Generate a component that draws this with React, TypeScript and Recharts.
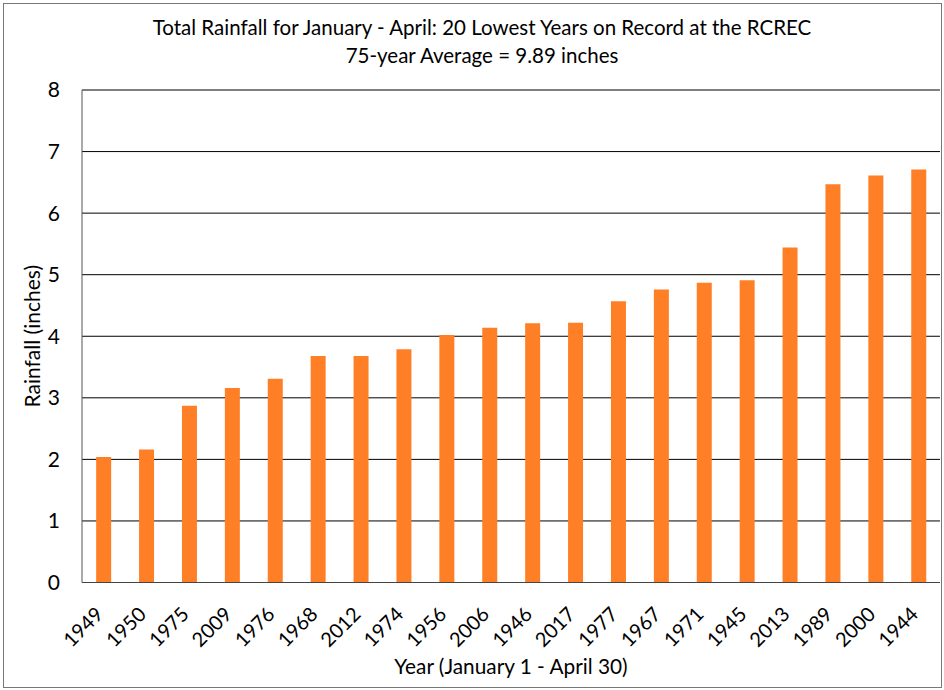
import { BarChart, Bar, XAxis, YAxis, CartesianGrid } from "recharts";

const years = [
  "1949", "1950", "1975", "2009", "1976", "1968", "2012", "1974", "1956", "2006",
  "1946", "2017", "1977", "1967", "1971", "1945", "2013", "1989", "2000", "1944",
];
const rainfall = [
  2.04, 2.16, 2.87, 3.16, 3.31, 3.68, 3.68, 3.79, 4.02, 4.14,
  4.21, 4.22, 4.57, 4.76, 4.87, 4.91, 5.44, 6.47, 6.61, 6.71,
];
const yTicks = [0, 1, 2, 3, 4, 5, 6, 7, 8];

const data = years.map((year, i) => ({ year, rainfall: rainfall[i] }));

const font = "Lato, 'Open Sans', sans-serif";

function YearTick({ x, y, payload }: any) {
  return (
    <text
      transform={`translate(${x + 1},${y + 25}) rotate(-45)`}
      textAnchor="end"
      fontSize={20}
      fontFamily={font}
      fill="#000"
    >
      {payload.value}
    </text>
  );
}

export default function App() {
  return (
    <div
      style={{
        position: "absolute",
        left: 0,
        top: 0,
        width: 944,
        height: 690,
        background: "#fff",
        fontFamily: font,
      }}
    >
      <div
        style={{
          position: "absolute",
          left: 3,
          top: 3,
          width: 937,
          height: 683,
          border: "1px solid #777",
        }}
      />
      <div
        style={{
          position: "absolute",
          top: 13,
          left: 0,
          width: 964,
          textAlign: "center",
          fontSize: 20.5,
          lineHeight: "28px",
          color: "#000",
        }}
      >
        Total Rainfall for January - April: 20 Lowest Years on Record at the RCREC
        <br />
        75-year Average = 9.89 inches
      </div>
      <div style={{ position: "absolute", left: 0, top: 0 }}>
        <BarChart
          width={944}
          height={690}
          data={data}
          margin={{ top: 90, right: 4, bottom: 0, left: 0 }}
          barCategoryGap="33%"
        >
          <CartesianGrid vertical={false} stroke="#000" strokeWidth={1} />
          <XAxis
            dataKey="year"
            height={107.5}
            interval={0}
            tick={<YearTick />}
            tickLine={false}
            axisLine={{ stroke: "#444" }}
            label={{
              value: "Year (January 1 - April 30)",
              position: "insideBottom",
              offset: 16,
              fontSize: 20.8,
              fontFamily: font,
              fill: "#000",
            }}
          />
          <YAxis
            width={82}
            domain={[0, 8]}
            ticks={yTicks}
            interval={0}
            tickLine={false}
            tickSize={0}
            tickMargin={22}
            axisLine={{ stroke: "#555" }}
            tick={{ fontSize: 21, fontFamily: font, fill: "#000" }}
            label={{
              value: "Rainfall (inches)",
              angle: -90,
              position: "insideLeft",
              offset: 33,
              fontSize: 21,
              fontFamily: font,
              fill: "#000",
              style: { textAnchor: "middle" },
            }}
          />
          <YAxis
            yAxisId="right"
            orientation="right"
            width={0}
            domain={[0, 8]}
            tick={false}
            tickLine={false}
            axisLine={{ stroke: "#888" }}
          />
          <Bar dataKey="rainfall" fill="#FF7F27" isAnimationActive={false} />
        </BarChart>
      </div>
    </div>
  );
}
